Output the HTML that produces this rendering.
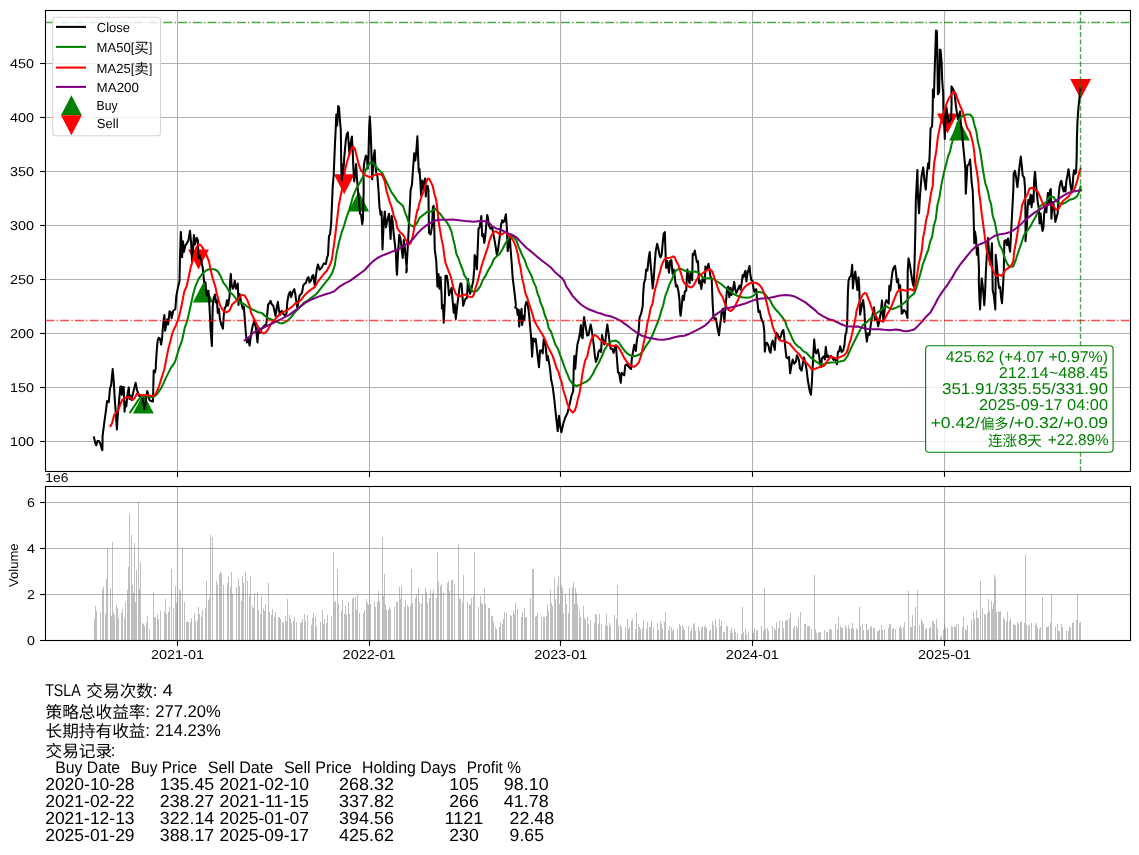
<!DOCTYPE html>
<html><head><meta charset="utf-8"><title>TSLA</title>
<style>html,body{margin:0;padding:0;background:#fff}body{width:1139px;height:855px;overflow:hidden;font-family:"Liberation Sans", sans-serif}</style>
</head><body>
<svg width="1139" height="855" viewBox="0 0 1139 855" style="display:block;transform:translateZ(0);will-change:transform;text-rendering:geometricPrecision;font-family:&quot;Liberation Sans&quot;,&quot;Noto Sans CJK SC&quot;,sans-serif">
<defs>
<clipPath id="c1"><rect x="45.5" y="10.5" width="1085.0" height="461.0"/></clipPath>
<clipPath id="c2"><rect x="45.5" y="486.5" width="1085.0" height="154.0"/></clipPath>
</defs>
<rect width="1139" height="855" fill="#fff"/>
<g opacity="0.999">
<g clip-path="url(#c1)">
<line x1="177.5" x2="177.5" y1="10.5" y2="471.5" stroke="#b0b0b0" stroke-width="1.1"/>
<line x1="369.5" x2="369.5" y1="10.5" y2="471.5" stroke="#b0b0b0" stroke-width="1.1"/>
<line x1="560.5" x2="560.5" y1="10.5" y2="471.5" stroke="#b0b0b0" stroke-width="1.1"/>
<line x1="752.5" x2="752.5" y1="10.5" y2="471.5" stroke="#b0b0b0" stroke-width="1.1"/>
<line x1="944.5" x2="944.5" y1="10.5" y2="471.5" stroke="#b0b0b0" stroke-width="1.1"/>
<line x1="45.5" x2="1130.5" y1="441.5" y2="441.5" stroke="#b0b0b0" stroke-width="1.1"/>
<line x1="45.5" x2="1130.5" y1="387.5" y2="387.5" stroke="#b0b0b0" stroke-width="1.1"/>
<line x1="45.5" x2="1130.5" y1="333.5" y2="333.5" stroke="#b0b0b0" stroke-width="1.1"/>
<line x1="45.5" x2="1130.5" y1="279.5" y2="279.5" stroke="#b0b0b0" stroke-width="1.1"/>
<line x1="45.5" x2="1130.5" y1="225.5" y2="225.5" stroke="#b0b0b0" stroke-width="1.1"/>
<line x1="45.5" x2="1130.5" y1="171.5" y2="171.5" stroke="#b0b0b0" stroke-width="1.1"/>
<line x1="45.5" x2="1130.5" y1="117.5" y2="117.5" stroke="#b0b0b0" stroke-width="1.1"/>
<line x1="45.5" x2="1130.5" y1="63.5" y2="63.5" stroke="#b0b0b0" stroke-width="1.1"/>
<path d="M143.40 393.50L133.00 413.50L153.80 413.50Z" fill="#008000"/>
<path d="M203.30 282.60L192.90 302.60L213.70 302.60Z" fill="#008000"/>
<path d="M358.70 191.40L348.30 211.40L369.10 211.40Z" fill="#008000"/>
<path d="M959.50 120.60L949.10 140.60L969.90 140.60Z" fill="#008000"/>
<path d="M198.50 269.40L188.10 249.40L208.90 249.40Z" fill="#ff0000"/>
<path d="M344.20 194.20L333.80 174.20L354.60 174.20Z" fill="#ff0000"/>
<path d="M947.40 133.60L937.00 113.60L957.80 113.60Z" fill="#ff0000"/>
<path d="M1080.60 99.00L1070.20 79.00L1091.00 79.00Z" fill="#ff0000"/>
<path d="M94.0 437.4L95.3 443.2L96.3 445.3L97.4 441.1L99.0 441.1L100.5 444.3L102.0 449.6L102.4 450.2L102.6 435.9L104.2 423.2L105.8 411.6L107.1 401.1L108.8 402.1L110.0 388.4L111.1 385.3L112.7 369.0L113.7 381.1L114.8 400.0L115.8 412.7L116.9 429.5L117.6 416.9L119.0 402.1L120.3 386.9L121.1 386.3L121.8 394.8L122.9 386.9L123.7 386.9L124.6 411.6L125.3 402.1L126.3 406.4L127.4 394.8L128.8 387.4L129.5 399.0L130.6 395.8L131.6 400.0L132.7 394.8L134.2 388.4L135.6 382.7L136.9 389.5L137.9 392.7L139.0 395.8L140.6 396.9L142.2 396.9L143.2 402.1L144.3 409.0L145.3 405.3L146.4 396.9L147.2 391.1L148.3 394.8L149.5 400.0L151.1 401.1L152.9 401.6L153.2 391.6L153.7 370.5L154.8 372.6L155.8 368.4L155.8 365.0L156.9 348.7L157.7 340.3L158.8 337.7L160.0 338.7L161.1 344.5L162.1 338.2L162.7 329.8L163.7 319.2L164.4 315.0L165.1 330.8L166.3 324.5L167.2 319.2L168.2 324.5L169.5 311.3L170.6 311.9L171.6 318.2L173.2 310.8L175.3 309.2L176.3 296.1L177.9 287.6L179.5 281.3L180.0 257.1L180.8 231.9L181.6 244.5L182.1 257.1L183.0 241.3L184.0 251.9L185.3 245.6L186.9 243.4L188.4 240.3L190.0 230.8L191.1 242.4L192.1 261.4L193.2 246.6L193.9 235.0L195.0 244.5L196.7 237.7L197.9 240.3L198.5 258.2L199.5 255.0L201.1 260.3L202.7 267.7L204.2 282.4L205.5 282.4L206.4 295.1L207.6 290.9L207.4 296.1L208.5 290.8L209.5 306.6L210.6 329.8L211.9 346.1L212.7 306.6L213.7 298.2L215.0 294.5L215.9 302.4L216.9 300.3L217.8 312.9L218.8 308.7L220.1 320.3L221.7 325.6L222.9 328.7L223.8 315.0L224.8 307.7L225.9 306.6L226.9 300.3L228.0 305.6L229.6 296.1L230.1 282.4L230.8 274.0L231.6 284.5L232.7 288.7L233.7 286.6L234.8 280.8L235.9 288.7L237.8 283.5L238.5 305.0L239.6 294.0L240.6 299.2L241.7 304.5L242.7 308.7L243.8 306.6L244.8 319.2L245.9 334.0L246.9 342.4L248.0 338.2L249.6 345.6L251.1 334.0L252.7 325.6L254.3 321.4L255.9 327.7L257.5 342.4L258.5 327.7L260.0 329.8L260.0 333.0L261.6 328.7L263.2 327.2L264.8 325.1L266.3 324.5L267.4 312.9L268.1 304.5L269.2 303.5L270.6 300.8L271.6 304.0L273.2 305.6L274.2 309.8L275.5 316.1L276.9 306.6L277.9 301.9L279.0 310.8L280.0 315.1L281.6 310.8L283.2 314.0L284.8 315.1L286.4 314.0L287.4 301.4L288.8 294.0L290.1 291.9L291.1 297.1L292.7 291.9L294.3 289.2L295.3 294.0L296.4 302.4L297.4 307.7L298.5 301.4L299.5 295.6L301.1 294.0L302.2 291.9L303.2 285.6L304.3 284.0L305.9 282.9L307.4 278.2L308.5 277.1L309.5 282.4L311.1 280.3L312.2 276.1L313.2 275.0L314.8 285.6L315.9 276.1L316.9 268.7L318.0 264.5L319.6 269.7L321.7 267.6L323.8 263.4L325.9 264.0L326.9 258.2L328.0 255.0L329.0 235.8L330.0 234.8L331.1 224.2L332.1 201.1L332.7 186.3L333.7 175.1L334.8 147.7L335.8 126.6L336.3 114.5L337.1 125.6L338.2 106.1L339.0 107.6L340.0 121.3L340.8 129.8L341.3 168.7L341.8 180.3L342.7 164.5L343.2 175.1L344.2 158.2L345.8 140.3L346.9 134.0L347.9 132.4L348.8 145.6L349.5 154.0L350.6 143.5L351.9 136.6L352.7 150.8L353.4 168.7L354.2 181.4L355.1 175.1L356.1 164.0L356.9 177.2L357.9 190.5L359.0 201.1L360.0 213.7L361.1 214.8L362.2 224.2L362.9 220.0L363.7 190.5L363.5 170.9L364.3 162.4L365.8 155.6L366.9 157.2L367.7 168.7L368.5 154.0L369.2 126.6L369.8 116.6L370.6 129.8L371.3 149.8L372.2 179.3L373.0 168.7L373.7 156.1L374.7 150.3L375.3 163.5L376.2 173.0L377.4 176.1L378.5 190.5L379.5 207.4L380.6 214.8L381.6 211.6L382.5 249.5L383.7 222.1L384.8 211.6L385.9 227.4L387.4 220.0L389.0 213.7L390.6 239.0L391.7 215.8L392.7 222.1L393.8 234.8L394.8 243.2L395.9 253.7L396.6 270.0L397.0 274.8L398.0 253.7L399.3 234.8L400.6 239.0L401.7 249.5L402.7 258.0L403.8 240.1L404.8 247.4L405.9 260.1L406.9 270.0L406.3 272.4L408.0 243.2L409.0 222.1L410.1 201.1L410.6 190.5L412.0 184.2L413.2 166.9L414.2 153.2L415.3 160.6L416.3 151.1L417.4 136.3L418.1 156.3L418.8 172.1L419.5 169.0L420.5 184.8L421.1 195.3L422.1 180.6L423.0 189.0L424.0 182.7L425.1 178.5L425.8 196.4L426.5 186.9L427.6 185.8L428.4 190.1L429.0 232.9L430.6 234.5L432.1 225.5L432.9 206.9L433.7 205.9L434.1 221.3L434.8 249.8L436.3 261.4L437.4 286.6L438.5 274.0L439.5 288.7L440.6 277.2L441.6 295.1L441.9 308.5L443.0 305.3L443.7 322.7L444.8 302.1L445.5 275.8L446.9 275.8L447.9 282.1L449.0 295.3L450.6 290.6L451.6 287.9L452.7 301.1L453.7 312.7L454.8 304.2L455.8 319.0L457.4 304.2L458.5 295.8L459.5 287.4L460.6 283.2L461.6 284.2L462.4 295.8L463.2 305.8L464.3 302.1L465.3 299.0L466.9 297.9L467.4 290.6L468.0 279.0L468.5 286.3L470.1 293.7L471.6 288.4L473.2 281.1L474.3 268.4L474.6 255.0L475.6 257.1L476.9 269.3L477.8 246.6L478.5 228.7L479.5 227.6L480.6 221.3L481.3 216.1L482.2 236.1L483.2 234.0L484.3 242.9L485.3 236.1L486.4 223.4L487.2 215.0L488.0 218.2L489.0 225.5L490.6 228.7L492.2 227.6L493.8 236.1L495.3 244.5L496.9 255.0L498.0 249.8L499.0 242.4L500.1 234.0L501.1 224.5L502.2 220.3L503.2 222.4L504.3 221.3L505.9 214.3L506.9 228.7L507.7 251.3L509.0 244.5L509.8 236.1L510.6 248.7L511.7 263.5L512.7 278.2L513.8 286.6L514.8 295.1L515.9 305.0L515.3 307.6L516.9 308.7L517.7 315.0L518.8 309.7L519.2 326.6L520.2 316.1L521.6 308.7L522.1 325.0L523.4 316.1L524.4 320.3L525.3 305.5L526.5 301.8L527.6 304.5L528.7 310.8L529.7 321.3L531.1 337.1L532.1 356.6L533.2 338.2L534.2 341.4L535.6 338.7L536.7 347.7L537.9 358.2L539.0 367.2L540.0 350.8L541.6 350.3L542.7 353.5L543.7 339.2L544.8 341.4L545.8 347.7L546.9 360.3L547.9 356.1L549.0 362.4L550.0 368.7L551.1 379.3L552.7 386.9L554.3 399.5L555.8 414.2L557.7 431.1L559.0 415.8L560.3 426.9L561.4 432.2L563.2 423.7L565.3 417.4L567.4 413.2L569.5 404.8L571.6 395.3L573.2 391.1L573.7 368.7L574.3 356.1L575.3 368.7L576.4 354.0L577.4 344.5L579.0 338.2L580.1 331.9L580.9 325.0L581.7 337.1L582.7 338.2L583.4 324.5L584.1 317.1L585.1 323.4L586.2 329.8L587.2 335.6L588.5 335.0L589.6 329.8L590.6 324.5L591.7 329.8L592.7 337.1L593.8 345.6L594.8 355.1L595.9 361.9L597.5 358.2L598.5 351.9L599.9 349.8L601.1 351.9L602.0 335.0L603.2 340.3L604.3 344.5L605.4 341.4L606.4 330.8L607.3 324.5L608.5 332.9L609.6 342.4L610.6 348.7L612.2 348.7L613.6 352.9L614.8 347.7L615.9 345.6L616.9 358.2L618.0 372.4L619.1 373.0L620.8 382.7L621.6 372.7L622.7 373.7L624.2 375.3L625.3 365.3L626.9 364.3L628.4 366.4L630.0 368.0L631.1 369.0L631.8 359.0L633.2 350.6L634.2 344.8L635.8 351.1L636.9 340.0L638.5 332.7L639.5 317.9L641.1 313.7L642.7 306.3L643.2 293.7L644.0 283.2L645.3 279.0L646.1 269.5L647.4 270.6L648.7 257.9L649.7 252.1L650.6 264.2L651.6 274.8L652.7 288.5L653.7 279.0L654.8 262.1L655.8 250.6L657.2 243.7L658.5 249.5L659.5 254.8L660.6 257.4L661.6 254.8L662.7 243.2L663.7 233.7L664.8 232.1L665.3 246.3L665.8 259.0L666.2 267.9L667.4 261.1L669.0 272.7L670.1 261.1L671.4 260.0L672.5 273.7L673.7 269.5L674.8 276.9L675.9 286.4L677.1 285.3L678.5 291.6L679.5 300.1L679.9 310.5L680.6 315.8L681.7 306.3L682.7 295.9L683.8 300.1L684.8 291.6L686.2 290.6L686.9 275.8L687.4 269.5L688.5 279.0L689.6 283.2L690.4 272.7L691.4 279.0L692.2 280.1L692.7 253.7L693.8 254.8L694.8 250.6L695.9 256.9L696.9 262.1L698.0 261.1L699.0 283.2L700.1 281.1L701.4 289.0L702.4 279.0L703.8 281.1L704.8 282.7L705.4 266.4L706.6 269.5L707.5 267.4L708.5 263.7L709.6 270.6L710.6 276.9L711.7 279.0L712.6 302.4L713.5 317.2L714.7 319.3L715.8 318.2L717.7 329.0L719.0 335.3L720.0 325.8L721.1 318.4L721.6 310.9L723.0 308.7L723.7 315.1L724.4 321.9L725.3 308.7L726.3 298.2L727.2 287.7L728.2 286.6L729.3 297.2L730.6 287.7L731.6 295.1L732.9 289.8L734.2 281.9L735.3 289.8L736.3 292.9L737.4 290.8L738.5 287.7L739.5 285.6L740.6 289.8L741.6 283.5L742.7 275.0L743.7 277.1L744.8 271.9L745.5 270.8L746.4 281.4L747.4 274.0L748.5 269.8L749.5 266.1L750.4 275.0L751.4 280.3L752.5 280.8L753.2 286.6L754.3 291.9L755.3 289.8L756.4 289.3L756.9 298.2L757.7 304.5L758.5 311.9L759.8 310.9L760.9 317.2L762.2 320.9L763.2 322.4L764.3 331.1L764.8 351.6L765.8 343.7L766.9 342.7L768.5 345.8L769.5 351.1L770.6 352.7L771.6 343.7L772.7 340.6L773.7 344.8L774.8 350.0L775.6 337.4L776.4 332.7L778.0 335.3L779.5 339.5L781.1 335.3L782.4 331.1L783.4 330.0L784.3 337.4L785.3 347.9L786.4 357.4L788.0 358.5L789.0 356.9L790.1 373.2L791.4 365.8L792.7 359.5L794.3 363.7L795.9 361.6L796.9 355.3L798.0 357.4L799.0 360.6L800.0 368.5L801.6 370.6L802.6 364.8L804.0 357.4L805.3 362.7L806.5 369.0L807.9 380.6L809.5 390.1L810.9 394.8L811.8 383.7L812.6 367.9L813.5 352.1L814.2 339.5L815.3 352.1L816.3 353.2L817.9 349.5L819.0 355.3L820.0 362.7L821.1 366.9L821.9 358.5L823.7 356.4L824.8 359.5L825.8 346.9L826.9 356.9L827.9 355.3L829.0 358.5L830.6 355.8L832.1 357.4L833.7 360.0L835.3 358.5L836.9 364.3L837.9 352.1L839.2 351.1L840.2 346.3L841.6 352.1L843.2 350.6L844.5 344.8L845.3 335.3L846.4 332.1L847.2 322.6L847.4 313.7L847.9 292.7L848.5 281.1L849.5 277.4L851.1 275.8L852.2 264.8L852.9 288.5L853.9 277.9L855.3 271.6L856.4 282.1L857.4 290.0L858.5 277.4L859.2 286.4L860.1 314.8L861.1 309.5L862.2 303.2L863.2 300.1L864.3 309.5L865.3 329.0L866.9 341.6L868.0 333.2L869.5 334.8L870.6 325.8L871.6 319.5L872.7 314.2L874.1 307.4L875.0 320.1L876.1 315.9L877.1 320.1L878.2 326.4L879.5 320.1L880.6 313.7L882.0 300.6L882.7 313.7L883.4 320.1L884.3 313.7L885.3 303.2L886.4 300.1L887.4 302.2L888.7 303.7L889.3 285.8L890.4 290.6L891.4 280.0L892.5 271.6L893.8 267.4L895.1 265.8L896.1 273.7L896.9 282.1L898.0 279.0L899.0 288.5L900.1 285.3L900.9 296.9L901.7 313.7L902.7 312.7L903.8 310.1L905.4 311.6L906.4 313.7L907.5 318.0L907.7 271.6L908.5 258.4L909.6 263.2L910.6 269.5L911.7 276.9L912.9 284.2L913.8 286.4L914.6 261.1L915.3 232.7L915.8 201.1L917.4 170.1L917.9 194.7L919.0 213.2L920.0 195.8L921.6 175.9L923.2 167.4L924.4 180.1L925.8 189.5L926.9 173.7L928.2 163.2L929.0 168.5L929.7 152.7L930.6 128.4L932.1 126.3L932.7 110.5L932.9 89.5L933.9 97.4L934.6 72.7L935.3 51.6L936.0 30.5L936.9 31.1L937.4 62.1L937.9 94.3L939.2 91.6L939.8 49.5L940.6 50.0L941.6 62.1L942.1 79.0L943.2 93.7L943.4 110.5L944.0 121.1L944.8 139.0L945.5 119.0L946.4 107.4L947.4 114.7L948.3 122.7L949.5 121.1L951.1 119.0L951.6 103.2L951.4 86.4L952.7 88.5L954.3 91.6L955.3 100.1L955.8 105.3L956.9 112.6L957.9 119.0L959.0 115.8L960.1 111.6L960.6 121.1L961.1 125.3L962.2 134.8L963.2 146.4L964.3 156.9L965.3 168.5L965.8 193.7L967.4 165.3L969.0 164.3L970.1 159.5L970.8 168.5L971.6 182.2L972.7 190.5L973.5 211.6L974.3 243.2L975.0 231.6L976.1 239.0L976.9 254.8L978.0 247.4L979.0 270.0L978.8 281.6L979.5 300.6L980.1 309.5L980.9 292.1L981.7 278.4L982.7 285.8L983.8 298.5L984.3 305.3L985.1 292.1L985.9 271.1L986.9 253.7L988.0 237.9L989.0 253.7L990.1 264.3L991.1 253.7L992.0 243.2L992.7 290.0L993.8 295.3L994.6 302.7L995.3 309.5L995.7 276.3L995.7 254.8L996.9 265.8L998.0 279.5L999.0 287.9L1000.1 286.9L1001.1 297.4L1002.0 303.2L1002.7 292.1L1003.8 271.1L1004.3 241.1L1005.9 240.1L1006.9 245.3L1008.0 238.5L1009.0 245.3L1010.1 251.6L1011.1 232.7L1012.2 211.6L1013.3 190.5L1013.7 173.4L1015.0 170.8L1016.0 176.6L1017.4 187.1L1018.4 177.7L1019.5 166.1L1020.8 156.6L1021.8 166.1L1022.7 175.6L1024.2 177.7L1025.1 189.2L1025.5 218.7L1025.5 241.1L1026.9 225.1L1027.6 208.2L1028.4 199.8L1029.5 204.0L1030.6 194.5L1031.6 207.2L1032.7 195.6L1033.5 201.9L1034.2 179.8L1035.0 171.9L1035.8 181.9L1036.7 191.4L1037.7 201.9L1038.8 208.2L1039.5 223.5L1040.6 213.5L1041.6 225.1L1042.5 230.9L1043.4 228.2L1044.2 213.5L1045.3 207.2L1046.4 212.4L1047.4 197.7L1047.9 192.9L1049.0 204.0L1050.0 190.3L1050.8 189.2L1051.4 218.7L1052.2 208.2L1053.2 201.9L1054.3 210.3L1055.3 221.9L1056.4 217.7L1057.7 213.5L1058.5 197.7L1059.5 187.1L1060.6 181.9L1061.4 180.8L1062.7 188.2L1063.7 191.4L1064.8 187.1L1065.5 191.4L1066.4 180.8L1067.4 175.6L1068.5 169.2L1069.5 176.6L1070.4 185.0L1071.4 190.3L1072.5 187.1L1073.2 176.6L1074.0 170.3L1075.0 174.0L1076.1 172.4L1076.7 155.5L1076.9 138.7L1077.5 120.8L1078.5 107.1L1079.6 96.6L1080.3 88.7" fill="none" stroke="#000" stroke-width="2.05" stroke-linejoin="round" stroke-linecap="square"/>
<path d="M130.2 412.2L134.2 406.4L137.9 400.6L140.6 397.4L143.7 396.3L146.9 396.3L151.1 397.1L153.2 397.4L157.4 393.7L161.6 387.4L165.9 377.9L170.6 368.4L174.3 363.2L175.8 359.3L179.0 348.7L182.1 340.3L184.8 327.7L187.4 320.3L190.0 308.7L192.7 296.1L195.3 286.6L198.5 279.2L202.1 274.0L206.4 270.3L209.5 269.3L214.8 269.3L217.9 271.4L220.6 276.1L223.2 282.4L226.4 286.6L229.5 291.9L233.2 295.0L236.3 299.2L240.5 302.4L244.7 304.5L249.0 307.7L253.2 309.8L257.4 311.9L261.6 312.9L264.8 315.6L267.9 318.2L272.1 319.8L276.4 321.4L279.5 323.0L282.2 323.5L284.8 322.4L287.9 320.3L291.1 317.2L295.3 311.9L299.5 307.7L303.7 302.9L308.0 300.3L312.2 297.1L316.4 294.0L320.6 288.7L324.8 283.4L329.0 278.2L332.2 272.9L334.8 265.5L335.3 261.1L336.9 251.6L339.0 242.2L341.6 232.7L344.2 225.3L346.3 217.9L349.0 210.6L351.1 203.2L353.2 195.8L356.4 188.4L359.5 183.2L361.6 179.3L363.7 175.1L365.8 169.8L367.9 165.6L370.6 162.4L372.7 162.4L375.3 165.6L378.5 169.8L382.2 173.0L384.8 178.2L388.5 186.3L391.7 192.6L394.8 196.9L397.4 201.1L400.6 203.7L403.2 206.3L404.8 211.6L406.9 216.9L408.5 222.1L410.1 224.8L412.7 226.4L415.4 225.3L417.5 222.1L419.6 217.9L422.2 215.8L424.8 213.7L427.5 211.6L431.1 211.7L433.2 210.1L435.3 208.5L437.4 211.1L440.6 214.3L442.7 217.4L446.9 222.4L449.5 226.6L451.6 231.9L453.2 239.2L454.8 245.6L456.4 254.0L458.5 258.2L460.6 264.5L462.7 269.8L464.3 275.1L466.9 279.3L469.0 284.5L471.6 290.3L473.7 291.9L476.9 290.9L480.1 286.6L482.7 280.3L485.9 275.1L488.5 269.8L491.7 264.5L493.8 259.2L496.9 256.1L499.6 254.0L502.7 248.7L505.4 243.4L508.5 238.2L511.1 236.1L513.8 237.1L516.4 240.3L518.5 246.6L519.5 248.7L522.1 255.0L524.8 260.3L526.9 266.6L529.5 271.9L531.6 276.1L533.7 282.4L535.8 286.6L537.4 293.0L539.5 298.2L540.0 301.3L542.7 307.6L544.8 315.0L546.9 320.3L548.5 327.7L551.1 331.9L553.2 338.2L555.3 344.5L557.9 348.7L560.1 355.1L562.2 360.3L564.3 366.6L566.4 371.9L567.4 374.2L569.5 379.5L572.7 384.2L576.4 386.0L580.1 384.7L583.2 383.2L586.4 381.6L589.6 379.0L592.7 374.2L595.9 367.7L599.0 362.4L602.1 355.8L604.7 349.5L607.4 345.3L610.0 342.1L612.6 340.9L615.8 340.6L619.0 342.7L622.1 347.4L625.3 351.6L629.0 354.8L632.7 356.4L636.3 355.8L640.0 354.3L643.2 350.6L646.4 345.3L649.5 341.1L652.2 335.8L654.3 330.6L656.9 324.2L659.0 319.0L661.1 311.6L663.2 305.3L665.3 295.9L667.4 290.6L669.5 284.3L671.6 280.1L673.7 274.8L675.9 270.6L678.5 269.0L681.7 269.0L684.3 270.6L687.4 271.6L691.7 271.8L695.9 271.6L699.0 273.2L703.2 277.7L706.8 278.2L710.5 278.2L713.7 279.2L716.9 281.4L721.1 284.0L725.3 287.7L729.5 290.8L733.7 294.0L737.9 296.1L742.1 297.2L746.4 297.7L750.6 297.2L753.7 295.6L756.4 292.9L759.0 291.9L762.2 292.4L764.8 294.0L767.4 297.2L770.1 300.3L772.7 305.6L775.9 309.8L779.0 313.0L782.2 317.2L785.3 321.4L786.9 326.9L789.6 332.1L792.2 338.4L794.8 343.2L798.5 346.9L800.0 347.4L803.2 351.1L806.8 353.2L810.5 357.4L814.7 360.6L819.0 363.7L822.7 364.6L826.3 363.2L830.6 362.5L835.8 362.2L840.0 361.6L844.2 360.6L847.4 356.4L850.6 349.0L853.7 342.7L856.9 336.3L860.1 330.0L863.2 324.7L867.4 321.6L871.6 317.4L875.9 313.7L880.1 310.5L884.3 307.4L886.9 306.4L889.6 308.5L892.7 309.0L896.9 307.4L900.0 305.8L903.2 303.7L906.8 300.6L910.5 296.4L914.2 293.7L916.3 287.9L918.4 280.6L920.5 273.2L922.7 264.7L923.7 262.2L926.3 254.8L928.4 249.5L930.0 242.2L932.1 236.9L933.7 226.4L935.8 219.0L937.4 205.3L939.5 196.9L941.1 186.3L942.1 181.1L944.2 171.6L946.4 163.2L947.9 156.9L950.0 151.6L951.6 144.2L952.7 140.6L954.8 131.6L957.4 123.2L960.1 117.9L963.2 115.3L966.9 114.5L970.1 114.5L972.7 117.4L974.3 124.2L976.4 131.6L978.0 142.1L980.1 150.6L981.7 161.1L983.2 171.6L985.3 183.2L988.0 191.6L989.6 200.0L991.1 204.2L992.7 215.8L994.8 222.1L996.4 230.6L998.0 239.0L999.6 245.3L1002.1 249.5L1004.7 257.9L1007.4 264.2L1010.0 266.9L1013.2 266.4L1015.8 260.0L1018.4 251.6L1021.1 244.2L1023.7 235.8L1026.3 231.6L1030.0 227.2L1032.7 221.9L1035.8 216.6L1037.9 211.4L1040.0 206.1L1043.2 204.0L1046.4 201.9L1048.5 197.7L1051.1 196.4L1053.7 197.2L1055.8 200.8L1058.5 202.9L1062.2 204.0L1065.8 202.4L1069.5 199.8L1073.7 198.7L1076.9 196.6L1079.0 192.4L1080.6 186.6" fill="none" stroke="#008000" stroke-width="2.05" stroke-linejoin="round" stroke-linecap="square"/>
<path d="M110.5 426.2L112.1 423.2L114.2 414.8L117.4 411.6L120.0 405.3L122.1 400.0L124.8 397.9L128.5 396.9L130.6 397.9L132.7 400.0L134.8 397.9L136.9 393.7L139.5 394.8L142.7 395.3L145.8 395.3L149.0 395.6L153.2 396.3L155.8 393.7L159.0 386.3L161.6 377.9L164.3 369.5L167.9 350.9L170.0 342.4L172.7 331.9L175.8 325.6L179.0 317.1L181.6 305.6L184.2 291.9L186.9 285.5L190.6 267.7L193.7 257.1L196.3 247.7L198.5 244.5L200.6 245.0L203.2 248.7L206.4 255.0L209.0 261.4L210.6 269.8L212.7 278.2L215.3 286.6L216.9 294.0L220.1 305.6L223.2 310.8L226.4 312.4L229.0 310.8L230.0 309.8L232.1 304.5L234.7 302.4L237.9 299.2L240.5 296.1L242.6 294.8L244.7 295.6L246.9 299.2L249.5 305.6L251.1 312.9L253.7 318.2L255.8 322.4L258.4 327.7L261.1 331.9L263.7 333.5L266.3 331.9L268.5 328.7L271.1 323.5L274.2 320.3L276.9 317.2L279.5 314.5L283.7 311.9L287.9 309.8L292.2 306.6L295.3 303.5L298.5 302.4L301.6 299.2L304.8 295.0L308.0 291.9L311.7 289.2L314.8 287.1L317.4 282.4L320.6 278.2L323.8 274.0L326.9 270.8L329.6 265.5L331.7 260.3L332.7 253.7L334.2 243.2L335.8 230.6L337.4 216.9L339.0 204.2L341.1 193.7L342.7 186.3L344.2 180.0L344.8 170.9L346.9 162.4L349.5 154.0L351.6 148.7L353.2 146.6L354.8 148.7L356.4 155.1L358.5 163.5L360.6 169.8L363.7 174.0L366.9 176.1L369.0 176.7L370.6 177.2L373.2 175.6L377.4 174.0L380.6 174.2L382.7 176.1L384.8 181.4L386.4 190.5L389.5 201.1L391.7 207.4L393.8 215.8L395.9 221.1L397.4 228.5L400.1 232.2L403.2 234.8L405.9 240.1L408.5 244.8L410.6 243.2L412.7 236.9L414.3 227.4L415.9 216.9L417.5 209.5L417.9 210.1L419.5 202.7L421.6 196.4L423.7 191.1L425.8 183.7L427.4 179.0L429.0 178.5L430.6 181.6L432.7 185.8L434.2 193.2L436.3 200.6L437.4 209.0L438.5 221.3L440.0 229.7L441.6 239.2L443.2 246.6L444.2 255.0L445.3 262.4L446.9 266.6L448.5 270.8L450.6 276.1L452.2 282.4L453.7 288.7L455.8 294.0L458.5 296.1L461.1 296.1L463.7 294.5L466.4 295.1L469.0 296.7L472.2 297.0L473.7 295.1L475.3 288.7L477.4 282.4L479.5 274.0L481.7 265.6L483.8 259.2L485.9 252.9L488.0 246.6L489.6 240.3L491.7 235.0L493.8 231.9L495.9 231.3L498.5 233.4L500.6 235.0L503.2 233.4L505.9 232.4L508.5 235.0L510.6 237.1L513.3 240.3L515.9 246.6L518.0 255.0L519.0 261.4L520.5 267.7L522.1 278.2L523.7 284.5L525.3 293.0L527.4 298.2L530.0 306.6L532.1 312.9L534.2 320.3L536.9 325.6L540.0 330.8L542.7 335.0L545.3 340.3L547.4 345.6L550.0 350.8L552.7 356.1L554.8 362.4L556.4 367.7L558.5 371.9L560.1 378.2L561.6 381.6L563.2 390.0L565.3 396.3L567.4 403.7L569.5 409.0L572.7 412.7L574.8 410.6L576.4 405.8L578.0 398.4L579.5 393.2L581.1 383.7L582.2 375.1L583.8 366.6L585.3 360.3L587.4 356.1L589.0 347.7L591.1 340.3L592.7 336.6L594.8 335.0L597.5 336.6L600.1 339.8L603.2 342.1L606.3 343.7L609.5 345.3L613.2 346.1L616.3 345.3L619.0 347.9L621.6 352.7L624.2 357.9L627.4 362.7L630.6 365.8L633.7 366.9L636.3 365.3L639.0 362.2L641.6 353.7L643.2 345.3L644.8 337.9L646.4 329.5L647.4 323.2L649.0 316.9L650.6 308.4L652.7 303.2L653.7 295.9L655.3 288.5L656.9 283.2L658.5 276.9L660.1 271.6L661.6 265.3L663.7 260.6L665.8 257.9L668.5 257.9L671.1 257.4L673.2 256.3L674.8 257.4L676.4 261.6L678.5 265.3L680.1 270.6L681.7 275.8L683.2 281.1L685.3 284.3L688.5 286.4L691.7 287.4L693.8 285.3L695.9 281.1L698.5 276.9L700.0 275.0L703.2 272.9L706.8 270.3L710.0 269.2L712.1 271.3L714.2 277.1L716.3 283.5L718.4 289.8L720.5 294.0L722.7 297.2L724.8 303.5L726.9 307.7L729.0 310.3L731.1 310.9L733.2 309.3L735.8 304.5L737.9 300.3L740.0 295.1L742.1 290.8L744.2 287.7L746.9 285.0L749.5 283.5L752.7 282.6L755.8 282.9L759.0 284.5L761.6 287.7L763.7 291.9L765.8 299.3L767.4 305.6L769.0 313.0L771.1 319.3L772.7 326.9L774.8 332.1L776.4 336.3L780.1 340.6L783.8 341.1L786.4 342.1L789.6 343.7L792.7 347.4L795.9 351.1L799.6 354.8L803.2 360.0L806.3 362.7L809.5 366.4L812.1 369.8L815.8 368.5L820.0 366.9L824.2 365.8L826.9 361.6L830.6 356.4L833.7 357.4L836.9 358.7L840.6 356.9L844.2 355.3L846.9 352.1L849.0 344.8L851.1 338.4L852.7 331.1L854.3 323.7L855.8 316.3L856.4 311.6L858.5 304.3L860.6 299.0L862.7 294.8L864.8 292.9L866.4 293.7L868.0 297.9L870.1 303.2L872.2 309.5L874.3 313.7L876.9 318.0L880.1 320.6L883.2 321.7L885.3 318.0L887.4 313.7L890.1 309.5L892.7 303.2L894.8 297.9L896.9 292.7L899.6 289.5L903.2 290.0L906.8 291.1L910.0 289.0L913.7 290.6L915.3 284.8L916.9 276.3L918.4 265.8L920.5 256.3L921.6 251.6L923.2 236.9L924.8 229.5L926.1 220.0L927.9 213.7L929.5 203.2L931.1 192.6L932.7 186.3L933.2 175.9L934.2 163.2L936.3 150.6L937.9 136.9L940.0 126.3L942.1 117.9L944.2 110.5L946.4 104.3L948.5 99.0L950.6 95.9L952.7 92.7L954.3 91.9L955.8 93.7L957.4 99.0L959.5 104.3L962.2 110.5L964.3 116.9L965.8 123.2L967.4 128.4L969.5 131.1L971.6 137.9L973.2 144.2L974.3 152.7L975.3 163.2L976.9 171.6L978.5 183.2L978.8 190.5L980.3 201.1L981.7 213.7L983.2 224.2L984.8 236.9L986.2 247.4L988.0 255.9L990.1 262.6L992.2 268.4L994.3 273.2L996.4 276.3L999.0 274.8L1001.7 275.8L1003.8 272.7L1005.4 270.0L1008.5 267.9L1011.1 265.8L1013.3 261.6L1014.2 251.6L1015.8 243.2L1017.4 233.7L1018.4 225.1L1020.5 216.6L1022.1 205.1L1024.8 198.7L1027.4 194.5L1029.5 188.7L1031.6 187.7L1034.8 189.2L1037.9 191.9L1040.0 196.6L1042.1 201.9L1043.7 205.6L1046.4 205.1L1049.5 204.0L1052.7 205.1L1054.8 208.2L1056.9 209.8L1059.0 208.2L1061.1 204.0L1063.2 200.8L1065.8 198.7L1068.5 196.6L1070.6 193.5L1072.7 191.4L1074.8 188.2L1076.9 181.9L1079.0 173.4L1080.6 168.7" fill="none" stroke="#ff0000" stroke-width="2.05" stroke-linejoin="round" stroke-linecap="square"/>
<path d="M244.7 340.3L249.0 337.2L253.2 333.0L258.4 329.8L263.7 327.7L267.9 325.6L272.1 323.5L276.4 321.4L280.6 319.3L284.8 317.2L289.0 315.1L293.2 311.9L297.4 308.7L301.6 305.6L305.9 302.4L312.2 299.2L318.5 296.6L324.8 294.5L330.1 292.9L334.3 291.3L339.6 286.6L344.8 283.4L350.0 280.8L364.8 270.0L369.0 265.3L373.2 261.1L377.4 258.0L381.6 255.9L386.9 253.7L392.2 251.6L397.4 249.5L400.0 248.2L404.2 245.6L409.5 242.4L413.7 238.2L417.9 232.9L422.1 228.7L426.3 225.5L430.6 222.9L434.8 220.8L439.0 219.7L445.3 219.7L452.7 219.4L459.0 220.3L465.3 221.1L473.7 221.8L480.1 221.1L486.4 221.3L489.6 223.4L492.7 226.6L496.9 228.7L500.0 229.2L504.2 231.3L508.4 233.4L512.6 235.0L516.9 237.7L521.1 242.4L526.3 247.7L531.6 251.9L536.9 256.6L542.1 260.8L546.4 264.0L550.6 267.2L554.8 271.9L559.0 275.6L562.2 278.2L564.3 281.4L566.4 286.6L569.5 290.9L572.7 296.1L574.8 298.2L578.0 301.8L582.2 305.5L587.4 308.7L592.7 310.8L598.0 312.9L600.0 313.2L605.3 315.3L610.5 316.3L615.8 318.4L621.1 321.1L626.3 324.8L631.6 329.0L636.9 332.7L642.1 335.8L647.4 337.4L652.7 338.5L657.9 339.5L663.2 339.8L668.5 339.0L673.7 337.4L679.0 336.3L684.3 335.8L689.6 333.7L694.8 331.1L700.1 328.4L705.4 325.3L709.6 321.1L713.7 316.1L719.0 312.4L724.2 309.3L729.5 307.7L734.8 306.6L740.0 305.1L745.3 303.5L750.6 301.4L755.8 299.5L761.1 298.5L767.4 298.2L773.7 296.9L780.1 295.6L786.4 295.1L790.6 295.4L794.8 296.6L800.1 299.3L805.4 302.4L810.6 306.6L815.9 310.9L817.9 313.2L823.2 316.3L828.4 319.0L833.7 320.5L840.0 323.7L846.4 326.3L852.7 326.6L857.9 326.6L863.2 327.9L868.5 329.0L873.7 329.2L879.0 329.2L884.3 329.8L889.6 330.2L895.9 329.5L900.0 330.1L903.2 330.9L906.8 331.3L910.5 330.6L914.2 329.5L917.9 325.9L922.1 321.6L926.3 316.4L930.6 312.2L934.8 304.8L937.9 298.5L942.1 292.1L947.4 284.8L951.6 278.4L955.8 271.1L960.1 264.7L964.3 259.5L968.5 254.2L971.6 250.6L975.9 246.4L981.1 243.7L986.4 241.6L990.6 238.5L994.8 235.8L1000.1 234.3L1005.3 233.5L1010.5 231.9L1014.7 229.3L1019.0 226.1L1024.2 220.9L1029.5 216.6L1034.8 212.4L1040.0 209.3L1045.3 206.1L1050.6 204.0L1055.8 200.8L1061.1 197.2L1065.3 194.5L1069.5 192.4L1073.7 191.6L1078.0 190.8L1081.1 190.3" fill="none" stroke="#800080" stroke-width="2.05" stroke-linejoin="round" stroke-linecap="square"/>
<line x1="45.5" x2="1130.5" y1="22.5" y2="22.5" stroke="#008000" stroke-opacity="0.7" stroke-width="1.39" stroke-dasharray="8.9 2.22 1.39 2.22"/>
<line x1="45.5" x2="1130.5" y1="320.5" y2="320.5" stroke="#ff0000" stroke-opacity="0.7" stroke-width="1.39" stroke-dasharray="8.9 2.22 1.39 2.22"/>
<line x1="1080.5" x2="1080.5" y1="471.5" y2="10.5" stroke="#008000" stroke-opacity="0.7" stroke-width="1.39" stroke-dasharray="5.14 2.22"/>
</g>
<rect x="45.5" y="10.5" width="1085.0" height="461.0" fill="none" stroke="#000" stroke-width="1.1"/>
<line x1="177.5" x2="177.5" y1="471.5" y2="476.9" stroke="#000" stroke-width="1.1"/>
<line x1="177.5" x2="177.5" y1="640.5" y2="645.9" stroke="#000" stroke-width="1.1"/>
<line x1="369.5" x2="369.5" y1="471.5" y2="476.9" stroke="#000" stroke-width="1.1"/>
<line x1="369.5" x2="369.5" y1="640.5" y2="645.9" stroke="#000" stroke-width="1.1"/>
<line x1="560.5" x2="560.5" y1="471.5" y2="476.9" stroke="#000" stroke-width="1.1"/>
<line x1="560.5" x2="560.5" y1="640.5" y2="645.9" stroke="#000" stroke-width="1.1"/>
<line x1="752.5" x2="752.5" y1="471.5" y2="476.9" stroke="#000" stroke-width="1.1"/>
<line x1="752.5" x2="752.5" y1="640.5" y2="645.9" stroke="#000" stroke-width="1.1"/>
<line x1="944.5" x2="944.5" y1="471.5" y2="476.9" stroke="#000" stroke-width="1.1"/>
<line x1="944.5" x2="944.5" y1="640.5" y2="645.9" stroke="#000" stroke-width="1.1"/>
<line x1="40.1" x2="45.5" y1="441.5" y2="441.5" stroke="#000" stroke-width="1.1"/>
<line x1="40.1" x2="45.5" y1="387.5" y2="387.5" stroke="#000" stroke-width="1.1"/>
<line x1="40.1" x2="45.5" y1="333.5" y2="333.5" stroke="#000" stroke-width="1.1"/>
<line x1="40.1" x2="45.5" y1="279.5" y2="279.5" stroke="#000" stroke-width="1.1"/>
<line x1="40.1" x2="45.5" y1="225.5" y2="225.5" stroke="#000" stroke-width="1.1"/>
<line x1="40.1" x2="45.5" y1="171.5" y2="171.5" stroke="#000" stroke-width="1.1"/>
<line x1="40.1" x2="45.5" y1="117.5" y2="117.5" stroke="#000" stroke-width="1.1"/>
<line x1="40.1" x2="45.5" y1="63.5" y2="63.5" stroke="#000" stroke-width="1.1"/>
<text x="10.10" y="445.95" font-size="12.9" fill="#000" textLength="24.00" lengthAdjust="spacingAndGlyphs">100</text>
<text x="10.10" y="391.95" font-size="12.9" fill="#000" textLength="24.00" lengthAdjust="spacingAndGlyphs">150</text>
<text x="10.10" y="337.95" font-size="12.9" fill="#000" textLength="24.00" lengthAdjust="spacingAndGlyphs">200</text>
<text x="10.10" y="283.95" font-size="12.9" fill="#000" textLength="24.00" lengthAdjust="spacingAndGlyphs">250</text>
<text x="10.10" y="229.95" font-size="12.9" fill="#000" textLength="24.00" lengthAdjust="spacingAndGlyphs">300</text>
<text x="10.10" y="175.95" font-size="12.9" fill="#000" textLength="24.00" lengthAdjust="spacingAndGlyphs">350</text>
<text x="10.10" y="121.95" font-size="12.9" fill="#000" textLength="24.00" lengthAdjust="spacingAndGlyphs">400</text>
<text x="10.10" y="67.95" font-size="12.9" fill="#000" textLength="24.00" lengthAdjust="spacingAndGlyphs">450</text>
<g clip-path="url(#c2)">
<line x1="177.5" x2="177.5" y1="486.5" y2="640.5" stroke="#b0b0b0" stroke-width="1.1"/>
<line x1="369.5" x2="369.5" y1="486.5" y2="640.5" stroke="#b0b0b0" stroke-width="1.1"/>
<line x1="560.5" x2="560.5" y1="486.5" y2="640.5" stroke="#b0b0b0" stroke-width="1.1"/>
<line x1="752.5" x2="752.5" y1="486.5" y2="640.5" stroke="#b0b0b0" stroke-width="1.1"/>
<line x1="944.5" x2="944.5" y1="486.5" y2="640.5" stroke="#b0b0b0" stroke-width="1.1"/>
<line x1="45.5" x2="1130.5" y1="640.5" y2="640.5" stroke="#b0b0b0" stroke-width="1.1"/>
<line x1="45.5" x2="1130.5" y1="594.5" y2="594.5" stroke="#b0b0b0" stroke-width="1.1"/>
<line x1="45.5" x2="1130.5" y1="548.5" y2="548.5" stroke="#b0b0b0" stroke-width="1.1"/>
<line x1="45.5" x2="1130.5" y1="502.5" y2="502.5" stroke="#b0b0b0" stroke-width="1.1"/>
<path d="M129 514h1V641h-1zM131 535h1V641h-1zM134 543h1V641h-1zM138 502h1V641h-1zM140 562h1V641h-1zM107 548h1V641h-1zM112 542h1V641h-1zM102 590h1V641h-1zM153 592h1V641h-1zM171 569h1V641h-1zM182 548h1V641h-1zM206 581h1V641h-1zM210 535h1V641h-1zM212 537h1V641h-1zM245 572h1V641h-1zM268 583h1V641h-1zM287 599h1V641h-1zM333 552h1V641h-1zM337 569h1V641h-1zM382 537h1V641h-1zM384 574h1V641h-1zM411 569h1V641h-1zM437 552h1V641h-1zM458 544h1V641h-1zM463 575h1V641h-1zM474 552h1V641h-1zM484 588h1V641h-1zM532 569h1V641h-1zM533 569h1V641h-1zM550 590h1V641h-1zM554 578h1V641h-1zM558 576h1V641h-1zM561 585h1V641h-1zM573 582h1V641h-1zM575 588h1V641h-1zM617 585h1V641h-1zM636 613h1V641h-1zM665 612h1V641h-1zM742 607h1V641h-1zM764 588h1V641h-1zM790 613h1V641h-1zM800 612h1V641h-1zM814 575h1V641h-1zM859 607h1V641h-1zM908 591h1V641h-1zM915 607h1V641h-1zM917 590h1V641h-1zM980 581h1V641h-1zM988 599h1V641h-1zM991 601h1V641h-1zM994 575h1V641h-1zM995 578h1V641h-1zM1025 555h1V641h-1zM1042 597h1V641h-1zM1051 594h1V641h-1zM1077 594h1V641h-1zM94 619h1V641h-1zM95 606h1V641h-1zM96 611h1V641h-1zM100 612h1V641h-1zM103 587h1V641h-1zM105 614h1V641h-1zM106 579h1V641h-1zM110 588h1V641h-1zM111 616h1V641h-1zM113 612h1V641h-1zM114 615h1V641h-1zM116 605h1V641h-1zM117 608h1V641h-1zM118 618h1V641h-1zM121 613h1V641h-1zM122 609h1V641h-1zM124 618h1V641h-1zM125 602h1V641h-1zM127 590h1V641h-1zM128 567h1V641h-1zM132 585h1V641h-1zM133 593h1V641h-1zM135 602h1V641h-1zM136 570h1V641h-1zM139 589h1V641h-1zM142 623h1V641h-1zM143 624h1V641h-1zM144 626h1V641h-1zM146 623h1V641h-1zM147 616h1V641h-1zM149 629h1V641h-1zM154 617h1V641h-1zM155 617h1V641h-1zM157 614h1V641h-1zM158 619h1V641h-1zM160 611h1V641h-1zM164 612h1V641h-1zM165 599h1V641h-1zM166 614h1V641h-1zM168 612h1V641h-1zM169 607h1V641h-1zM173 608h1V641h-1zM175 586h1V641h-1zM176 603h1V641h-1zM177 597h1V641h-1zM179 589h1V641h-1zM180 591h1V641h-1zM184 602h1V641h-1zM186 622h1V641h-1zM187 621h1V641h-1zM188 622h1V641h-1zM190 622h1V641h-1zM191 618h1V641h-1zM194 613h1V641h-1zM195 621h1V641h-1zM197 620h1V641h-1zM198 607h1V641h-1zM199 614h1V641h-1zM201 617h1V641h-1zM202 610h1V641h-1zM205 608h1V641h-1zM208 600h1V641h-1zM209 598h1V641h-1zM216 581h1V641h-1zM217 585h1V641h-1zM219 574h1V641h-1zM220 572h1V641h-1zM221 573h1V641h-1zM223 585h1V641h-1zM227 583h1V641h-1zM228 576h1V641h-1zM230 587h1V641h-1zM231 572h1V641h-1zM232 594h1V641h-1zM236 587h1V641h-1zM238 579h1V641h-1zM239 586h1V641h-1zM241 601h1V641h-1zM242 576h1V641h-1zM243 583h1V641h-1zM247 581h1V641h-1zM249 596h1V641h-1zM250 576h1V641h-1zM252 606h1V641h-1zM253 608h1V641h-1zM254 593h1V641h-1zM257 592h1V641h-1zM258 610h1V641h-1zM260 614h1V641h-1zM261 596h1V641h-1zM263 609h1V641h-1zM264 611h1V641h-1zM265 604h1V641h-1zM269 612h1V641h-1zM271 615h1V641h-1zM272 609h1V641h-1zM274 617h1V641h-1zM275 612h1V641h-1zM278 617h1V641h-1zM279 617h1V641h-1zM280 619h1V641h-1zM282 622h1V641h-1zM283 622h1V641h-1zM285 616h1V641h-1zM286 621h1V641h-1zM289 615h1V641h-1zM290 619h1V641h-1zM291 623h1V641h-1zM293 621h1V641h-1zM294 617h1V641h-1zM296 622h1V641h-1zM300 623h1V641h-1zM301 622h1V641h-1zM302 619h1V641h-1zM304 614h1V641h-1zM305 621h1V641h-1zM307 615h1V641h-1zM311 625h1V641h-1zM312 618h1V641h-1zM313 613h1V641h-1zM315 617h1V641h-1zM316 626h1V641h-1zM320 622h1V641h-1zM322 610h1V641h-1zM323 624h1V641h-1zM324 619h1V641h-1zM326 623h1V641h-1zM327 615h1V641h-1zM331 616h1V641h-1zM334 602h1V641h-1zM335 601h1V641h-1zM338 604h1V641h-1zM341 611h1V641h-1zM342 600h1V641h-1zM344 614h1V641h-1zM345 606h1V641h-1zM346 615h1V641h-1zM348 602h1V641h-1zM349 614h1V641h-1zM352 599h1V641h-1zM353 597h1V641h-1zM355 597h1V641h-1zM356 610h1V641h-1zM357 595h1V641h-1zM359 613h1V641h-1zM363 613h1V641h-1zM364 610h1V641h-1zM366 599h1V641h-1zM367 603h1V641h-1zM368 605h1V641h-1zM370 604h1V641h-1zM374 601h1V641h-1zM375 607h1V641h-1zM377 602h1V641h-1zM378 591h1V641h-1zM379 601h1V641h-1zM383 596h1V641h-1zM385 605h1V641h-1zM386 610h1V641h-1zM388 610h1V641h-1zM389 607h1V641h-1zM390 609h1V641h-1zM394 607h1V641h-1zM396 602h1V641h-1zM397 602h1V641h-1zM399 587h1V641h-1zM400 599h1V641h-1zM401 586h1V641h-1zM404 607h1V641h-1zM405 600h1V641h-1zM407 605h1V641h-1zM408 607h1V641h-1zM410 606h1V641h-1zM412 603h1V641h-1zM415 598h1V641h-1zM416 594h1V641h-1zM418 588h1V641h-1zM419 602h1V641h-1zM421 604h1V641h-1zM422 595h1V641h-1zM425 588h1V641h-1zM426 592h1V641h-1zM427 603h1V641h-1zM429 598h1V641h-1zM430 590h1V641h-1zM432 593h1V641h-1zM433 590h1V641h-1zM436 598h1V641h-1zM438 582h1V641h-1zM440 586h1V641h-1zM441 584h1V641h-1zM443 593h1V641h-1zM447 583h1V641h-1zM448 581h1V641h-1zM449 591h1V641h-1zM451 580h1V641h-1zM452 580h1V641h-1zM454 584h1V641h-1zM459 599h1V641h-1zM460 599h1V641h-1zM462 602h1V641h-1zM467 602h1V641h-1zM469 604h1V641h-1zM470 605h1V641h-1zM471 598h1V641h-1zM473 596h1V641h-1zM478 607h1V641h-1zM480 596h1V641h-1zM481 603h1V641h-1zM482 604h1V641h-1zM485 604h1V641h-1zM488 608h1V641h-1zM489 608h1V641h-1zM491 616h1V641h-1zM492 616h1V641h-1zM493 622h1V641h-1zM495 627h1V641h-1zM496 629h1V641h-1zM499 627h1V641h-1zM500 622h1V641h-1zM502 624h1V641h-1zM503 619h1V641h-1zM504 612h1V641h-1zM506 613h1V641h-1zM510 615h1V641h-1zM511 616h1V641h-1zM513 611h1V641h-1zM514 614h1V641h-1zM515 603h1V641h-1zM517 609h1V641h-1zM521 617h1V641h-1zM522 612h1V641h-1zM524 608h1V641h-1zM525 617h1V641h-1zM526 617h1V641h-1zM530 598h1V641h-1zM535 617h1V641h-1zM536 616h1V641h-1zM537 613h1V641h-1zM541 617h1V641h-1zM543 617h1V641h-1zM544 617h1V641h-1zM546 616h1V641h-1zM547 604h1V641h-1zM548 611h1V641h-1zM551 603h1V641h-1zM552 606h1V641h-1zM555 599h1V641h-1zM557 586h1V641h-1zM559 604h1V641h-1zM562 588h1V641h-1zM563 613h1V641h-1zM565 595h1V641h-1zM566 604h1V641h-1zM568 613h1V641h-1zM569 588h1V641h-1zM572 587h1V641h-1zM574 604h1V641h-1zM576 593h1V641h-1zM577 604h1V641h-1zM579 610h1V641h-1zM580 617h1V641h-1zM583 606h1V641h-1zM584 618h1V641h-1zM585 620h1V641h-1zM587 617h1V641h-1zM588 624h1V641h-1zM590 620h1V641h-1zM594 623h1V641h-1zM595 614h1V641h-1zM596 615h1V641h-1zM598 624h1V641h-1zM599 614h1V641h-1zM601 624h1V641h-1zM605 625h1V641h-1zM606 614h1V641h-1zM607 626h1V641h-1zM609 623h1V641h-1zM610 626h1V641h-1zM614 615h1V641h-1zM616 619h1V641h-1zM618 626h1V641h-1zM620 625h1V641h-1zM621 627h1V641h-1zM625 627h1V641h-1zM627 619h1V641h-1zM628 629h1V641h-1zM629 627h1V641h-1zM631 621h1V641h-1zM632 619h1V641h-1zM635 629h1V641h-1zM638 624h1V641h-1zM639 627h1V641h-1zM640 629h1V641h-1zM642 628h1V641h-1zM643 620h1V641h-1zM646 629h1V641h-1zM647 622h1V641h-1zM649 627h1V641h-1zM650 627h1V641h-1zM651 621h1V641h-1zM653 628h1V641h-1zM657 623h1V641h-1zM658 630h1V641h-1zM660 621h1V641h-1zM661 624h1V641h-1zM662 629h1V641h-1zM664 622h1V641h-1zM668 630h1V641h-1zM669 626h1V641h-1zM671 627h1V641h-1zM672 631h1V641h-1zM673 629h1V641h-1zM677 629h1V641h-1zM679 624h1V641h-1zM680 626h1V641h-1zM682 625h1V641h-1zM683 628h1V641h-1zM684 630h1V641h-1zM688 626h1V641h-1zM690 631h1V641h-1zM691 628h1V641h-1zM693 624h1V641h-1zM694 623h1V641h-1zM695 631h1V641h-1zM698 627h1V641h-1zM699 631h1V641h-1zM701 628h1V641h-1zM702 626h1V641h-1zM704 627h1V641h-1zM705 625h1V641h-1zM706 628h1V641h-1zM709 631h1V641h-1zM710 630h1V641h-1zM712 621h1V641h-1zM713 625h1V641h-1zM715 619h1V641h-1zM716 627h1V641h-1zM719 619h1V641h-1zM720 626h1V641h-1zM721 621h1V641h-1zM723 632h1V641h-1zM724 632h1V641h-1zM726 626h1V641h-1zM727 626h1V641h-1zM730 631h1V641h-1zM731 628h1V641h-1zM732 633h1V641h-1zM734 629h1V641h-1zM735 632h1V641h-1zM737 633h1V641h-1zM741 634h1V641h-1zM743 632h1V641h-1zM745 629h1V641h-1zM746 634h1V641h-1zM748 632h1V641h-1zM752 631h1V641h-1zM753 633h1V641h-1zM754 628h1V641h-1zM756 630h1V641h-1zM757 630h1V641h-1zM761 626h1V641h-1zM763 631h1V641h-1zM765 629h1V641h-1zM767 628h1V641h-1zM768 631h1V641h-1zM772 626h1V641h-1zM774 628h1V641h-1zM775 630h1V641h-1zM776 622h1V641h-1zM778 628h1V641h-1zM779 621h1V641h-1zM782 621h1V641h-1zM783 628h1V641h-1zM785 621h1V641h-1zM786 620h1V641h-1zM787 620h1V641h-1zM789 618h1V641h-1zM793 628h1V641h-1zM794 626h1V641h-1zM796 626h1V641h-1zM797 628h1V641h-1zM798 618h1V641h-1zM804 624h1V641h-1zM805 624h1V641h-1zM807 626h1V641h-1zM808 626h1V641h-1zM809 626h1V641h-1zM811 629h1V641h-1zM815 629h1V641h-1zM816 633h1V641h-1zM818 633h1V641h-1zM819 632h1V641h-1zM820 632h1V641h-1zM824 630h1V641h-1zM826 632h1V641h-1zM827 632h1V641h-1zM829 629h1V641h-1zM830 629h1V641h-1zM831 630h1V641h-1zM835 624h1V641h-1zM837 629h1V641h-1zM838 617h1V641h-1zM840 626h1V641h-1zM841 628h1V641h-1zM842 627h1V641h-1zM845 625h1V641h-1zM846 628h1V641h-1zM848 625h1V641h-1zM849 629h1V641h-1zM851 628h1V641h-1zM852 623h1V641h-1zM853 629h1V641h-1zM856 628h1V641h-1zM857 630h1V641h-1zM860 626h1V641h-1zM862 624h1V641h-1zM863 630h1V641h-1zM866 624h1V641h-1zM867 630h1V641h-1zM868 629h1V641h-1zM870 627h1V641h-1zM871 626h1V641h-1zM873 628h1V641h-1zM874 628h1V641h-1zM877 631h1V641h-1zM878 631h1V641h-1zM879 629h1V641h-1zM881 625h1V641h-1zM882 630h1V641h-1zM884 629h1V641h-1zM888 628h1V641h-1zM889 624h1V641h-1zM890 624h1V641h-1zM892 629h1V641h-1zM893 628h1V641h-1zM895 629h1V641h-1zM899 628h1V641h-1zM900 626h1V641h-1zM901 628h1V641h-1zM903 627h1V641h-1zM904 622h1V641h-1zM910 627h1V641h-1zM911 627h1V641h-1zM912 615h1V641h-1zM914 626h1V641h-1zM919 625h1V641h-1zM921 619h1V641h-1zM922 622h1V641h-1zM923 624h1V641h-1zM925 629h1V641h-1zM926 628h1V641h-1zM929 628h1V641h-1zM930 627h1V641h-1zM932 621h1V641h-1zM933 621h1V641h-1zM934 624h1V641h-1zM936 619h1V641h-1zM937 629h1V641h-1zM940 637h1V641h-1zM941 635h1V641h-1zM943 630h1V641h-1zM944 624h1V641h-1zM945 628h1V641h-1zM947 628h1V641h-1zM951 626h1V641h-1zM952 627h1V641h-1zM954 626h1V641h-1zM955 627h1V641h-1zM956 624h1V641h-1zM958 624h1V641h-1zM962 627h1V641h-1zM963 617h1V641h-1zM965 629h1V641h-1zM966 630h1V641h-1zM967 625h1V641h-1zM971 620h1V641h-1zM973 612h1V641h-1zM974 619h1V641h-1zM976 610h1V641h-1zM977 618h1V641h-1zM978 618h1V641h-1zM982 608h1V641h-1zM984 614h1V641h-1zM985 615h1V641h-1zM987 613h1V641h-1zM989 611h1V641h-1zM992 609h1V641h-1zM993 603h1V641h-1zM996 612h1V641h-1zM998 611h1V641h-1zM999 612h1V641h-1zM1000 611h1V641h-1zM1003 618h1V641h-1zM1004 619h1V641h-1zM1006 621h1V641h-1zM1007 612h1V641h-1zM1009 621h1V641h-1zM1010 618h1V641h-1zM1013 624h1V641h-1zM1014 625h1V641h-1zM1015 625h1V641h-1zM1017 622h1V641h-1zM1018 624h1V641h-1zM1020 622h1V641h-1zM1021 621h1V641h-1zM1024 623h1V641h-1zM1026 625h1V641h-1zM1028 626h1V641h-1zM1029 625h1V641h-1zM1031 623h1V641h-1zM1035 625h1V641h-1zM1036 623h1V641h-1zM1037 628h1V641h-1zM1039 629h1V641h-1zM1040 627h1V641h-1zM1046 627h1V641h-1zM1047 627h1V641h-1zM1048 626h1V641h-1zM1050 623h1V641h-1zM1055 627h1V641h-1zM1057 624h1V641h-1zM1058 631h1V641h-1zM1059 631h1V641h-1zM1061 624h1V641h-1zM1062 627h1V641h-1zM1066 631h1V641h-1zM1068 631h1V641h-1zM1069 626h1V641h-1zM1070 628h1V641h-1zM1072 623h1V641h-1zM1073 622h1V641h-1zM1076 620h1V641h-1zM1079 623h1V641h-1zM1080 622h1V641h-1z" fill="#808080" fill-opacity="0.5" shape-rendering="crispEdges"/>
</g>
<rect x="45.5" y="486.5" width="1085.0" height="154.0" fill="none" stroke="#000" stroke-width="1.1"/>
<line x1="40.1" x2="45.5" y1="640.5" y2="640.5" stroke="#000" stroke-width="1.1"/>
<text x="26.90" y="644.95" font-size="12.9" fill="#000" textLength="7.90" lengthAdjust="spacingAndGlyphs">0</text>
<line x1="40.1" x2="45.5" y1="594.5" y2="594.5" stroke="#000" stroke-width="1.1"/>
<text x="26.90" y="598.95" font-size="12.9" fill="#000" textLength="7.90" lengthAdjust="spacingAndGlyphs">2</text>
<line x1="40.1" x2="45.5" y1="548.5" y2="548.5" stroke="#000" stroke-width="1.1"/>
<text x="26.90" y="552.95" font-size="12.9" fill="#000" textLength="7.90" lengthAdjust="spacingAndGlyphs">4</text>
<line x1="40.1" x2="45.5" y1="502.5" y2="502.5" stroke="#000" stroke-width="1.1"/>
<text x="26.90" y="506.95" font-size="12.9" fill="#000" textLength="7.90" lengthAdjust="spacingAndGlyphs">6</text>
<text x="151.00" y="658.80" font-size="12.9" fill="#000" textLength="53.00" lengthAdjust="spacingAndGlyphs">2021-01</text>
<text x="342.62" y="658.80" font-size="12.9" fill="#000" textLength="53.00" lengthAdjust="spacingAndGlyphs">2022-01</text>
<text x="534.25" y="658.80" font-size="12.9" fill="#000" textLength="53.00" lengthAdjust="spacingAndGlyphs">2023-01</text>
<text x="725.88" y="658.80" font-size="12.9" fill="#000" textLength="53.00" lengthAdjust="spacingAndGlyphs">2024-01</text>
<text x="918.02" y="658.80" font-size="12.9" fill="#000" textLength="53.00" lengthAdjust="spacingAndGlyphs">2025-01</text>
<text x="45.30" y="481.70" font-size="12.9" fill="#000" textLength="23.10" lengthAdjust="spacingAndGlyphs">1e6</text>
<text transform="translate(18.4 587) rotate(-90)" font-size="12.9" textLength="43.6" lengthAdjust="spacingAndGlyphs">Volume</text>
<rect x="52.7" y="17.2" width="107.8" height="118.6" rx="2.8" fill="#fff" fill-opacity="0.8" stroke="#ccc" stroke-opacity="0.8" stroke-width="1.1"/>
<line x1="56" x2="86" y1="26.9" y2="26.9" stroke="#000" stroke-width="2.05"/>
<line x1="56" x2="86" y1="46.9" y2="46.9" stroke="#008000" stroke-width="2.05"/>
<line x1="56" x2="86" y1="67.6" y2="67.6" stroke="#ff0000" stroke-width="2.05"/>
<line x1="56" x2="86" y1="86.9" y2="86.9" stroke="#800080" stroke-width="2.05"/>
<path d="M71.40 95.20L61.00 115.20L81.80 115.20Z" fill="#008000"/>
<path d="M71.40 135.20L61.00 115.20L81.80 115.20Z" fill="#ff0000"/>
<text x="96.80" y="32.00" font-size="13.1" fill="#000" textLength="33.30" lengthAdjust="spacingAndGlyphs">Close</text>
<text x="96.60" y="51.90" font-size="13.1" fill="#000" textLength="37.80" lengthAdjust="spacingAndGlyphs">MA50[</text>
<text x="134.30" y="52.90" font-size="14.5" fill="#000">买</text>
<text x="149.00" y="51.90" font-size="13.1" fill="#000" textLength="3.30" lengthAdjust="spacingAndGlyphs">]</text>
<text x="96.60" y="72.50" font-size="13.1" fill="#000" textLength="37.80" lengthAdjust="spacingAndGlyphs">MA25[</text>
<text x="134.30" y="73.50" font-size="14.5" fill="#000">卖</text>
<text x="149.00" y="72.50" font-size="13.1" fill="#000" textLength="3.30" lengthAdjust="spacingAndGlyphs">]</text>
<text x="96.60" y="91.60" font-size="13.1" fill="#000" textLength="42.40" lengthAdjust="spacingAndGlyphs">MA200</text>
<text x="96.60" y="109.70" font-size="13.1" fill="#000" textLength="21.00" lengthAdjust="spacingAndGlyphs">Buy</text>
<text x="96.80" y="128.30" font-size="13.1" fill="#000" textLength="21.80" lengthAdjust="spacingAndGlyphs">Sell</text>
<rect x="925.6" y="345.8" width="187.5" height="106.5" rx="3.5" fill="#fff" fill-opacity="0.8" stroke="#008000" stroke-width="1.1"/>
<text x="945.80" y="362.10" font-size="15.6" fill="#008000" textLength="162.20" lengthAdjust="spacingAndGlyphs">425.62 (+4.07 +0.97%)</text>
<text x="998.80" y="378.00" font-size="15.6" fill="#008000" textLength="109.20" lengthAdjust="spacingAndGlyphs">212.14~488.45</text>
<text x="941.90" y="393.90" font-size="15.6" fill="#008000" textLength="166.10" lengthAdjust="spacingAndGlyphs">351.91/335.55/331.90</text>
<text x="979.00" y="409.80" font-size="15.6" fill="#008000" textLength="129.00" lengthAdjust="spacingAndGlyphs">2025-09-17 04:00</text>
<text x="930.60" y="428.00" font-size="15.6" fill="#008000" textLength="49.30" lengthAdjust="spacingAndGlyphs">+0.42/</text>
<text x="980.20" y="428.90" font-size="14.8" fill="#008000" textLength="28.3" lengthAdjust="spacingAndGlyphs">偏多</text>
<text x="1009.20" y="428.00" font-size="15.6" fill="#008000" textLength="98.80" lengthAdjust="spacingAndGlyphs">/+0.32/+0.09</text>
<text x="988.00" y="445.60" font-size="14.8" fill="#008000" textLength="29" lengthAdjust="spacingAndGlyphs">连涨</text>
<text x="1017.80" y="445.10" font-size="15.6" fill="#008000" textLength="10.00" lengthAdjust="spacingAndGlyphs">8</text>
<text x="1027.10" y="445.60" font-size="14.8" fill="#008000">天</text>
<text x="1047.80" y="445.10" font-size="15.6" fill="#008000" textLength="60.80" lengthAdjust="spacingAndGlyphs">+22.89%</text>
<text x="45.20" y="696.10" font-size="17.0" fill="#000" textLength="35.40" lengthAdjust="spacingAndGlyphs">TSLA</text>
<text x="86.30" y="696.50" font-size="16.67" fill="#000" textLength="66.68" lengthAdjust="spacingAndGlyphs">交易次数</text>
<text x="152.70000000000002" y="696.1" font-size="17.0">:</text>
<text x="162.40" y="696.10" font-size="17.0" fill="#000" textLength="10.40" lengthAdjust="spacingAndGlyphs">4</text>
<text x="45.50" y="717.80" font-size="16.67" fill="#000" textLength="100.02" lengthAdjust="spacingAndGlyphs">策略总收益率</text>
<text x="145.3" y="717.1" font-size="17.0">:</text>
<text x="155.30" y="717.10" font-size="17.0" fill="#000" textLength="65.50" lengthAdjust="spacingAndGlyphs">277.20%</text>
<text x="45.50" y="736.80" font-size="16.67" fill="#000" textLength="100.02" lengthAdjust="spacingAndGlyphs">长期持有收益</text>
<text x="145.3" y="736.1" font-size="17.0">:</text>
<text x="155.30" y="736.10" font-size="17.0" fill="#000" textLength="65.50" lengthAdjust="spacingAndGlyphs">214.23%</text>
<text x="45.50" y="756.80" font-size="16.67" fill="#000" textLength="66.68" lengthAdjust="spacingAndGlyphs">交易记录</text>
<text x="110.7" y="756.1" font-size="17.0">:</text>
<text x="55.20" y="772.50" font-size="16.6" fill="#000" textLength="64.90" lengthAdjust="spacingAndGlyphs">Buy Date</text>
<text x="130.80" y="772.50" font-size="16.6" fill="#000" textLength="66.20" lengthAdjust="spacingAndGlyphs">Buy Price</text>
<text x="207.70" y="772.50" font-size="16.6" fill="#000" textLength="65.70" lengthAdjust="spacingAndGlyphs">Sell Date</text>
<text x="283.90" y="772.50" font-size="16.6" fill="#000" textLength="67.90" lengthAdjust="spacingAndGlyphs">Sell Price</text>
<text x="362.00" y="772.50" font-size="16.6" fill="#000" textLength="94.30" lengthAdjust="spacingAndGlyphs">Holding Days</text>
<text x="466.80" y="772.50" font-size="16.6" fill="#000" textLength="54.10" lengthAdjust="spacingAndGlyphs">Profit %</text>
<text x="45.20" y="790.00" font-size="17.4" fill="#000" textLength="89.40" lengthAdjust="spacingAndGlyphs">2020-10-28</text>
<text x="159.80" y="790.00" font-size="17.4" fill="#000" textLength="54.40" lengthAdjust="spacingAndGlyphs">135.45</text>
<text x="219.60" y="790.00" font-size="17.4" fill="#000" textLength="89.40" lengthAdjust="spacingAndGlyphs">2021-02-10</text>
<text x="339.00" y="790.00" font-size="17.4" fill="#000" textLength="55.00" lengthAdjust="spacingAndGlyphs">268.32</text>
<text x="449.30" y="790.00" font-size="17.4" fill="#000" textLength="29.40" lengthAdjust="spacingAndGlyphs">105</text>
<text x="503.80" y="790.00" font-size="17.4" fill="#000" textLength="44.80" lengthAdjust="spacingAndGlyphs">98.10</text>
<text x="45.20" y="807.00" font-size="17.4" fill="#000" textLength="89.40" lengthAdjust="spacingAndGlyphs">2021-02-22</text>
<text x="159.80" y="807.00" font-size="17.4" fill="#000" textLength="54.40" lengthAdjust="spacingAndGlyphs">238.27</text>
<text x="219.60" y="807.00" font-size="17.4" fill="#000" textLength="89.40" lengthAdjust="spacingAndGlyphs">2021-11-15</text>
<text x="339.00" y="807.00" font-size="17.4" fill="#000" textLength="55.00" lengthAdjust="spacingAndGlyphs">337.82</text>
<text x="449.30" y="807.00" font-size="17.4" fill="#000" textLength="29.40" lengthAdjust="spacingAndGlyphs">266</text>
<text x="503.80" y="807.00" font-size="17.4" fill="#000" textLength="44.80" lengthAdjust="spacingAndGlyphs">41.78</text>
<text x="45.20" y="824.20" font-size="17.4" fill="#000" textLength="89.40" lengthAdjust="spacingAndGlyphs">2021-12-13</text>
<text x="159.80" y="824.20" font-size="17.4" fill="#000" textLength="54.40" lengthAdjust="spacingAndGlyphs">322.14</text>
<text x="219.60" y="824.20" font-size="17.4" fill="#000" textLength="89.40" lengthAdjust="spacingAndGlyphs">2025-01-07</text>
<text x="339.00" y="824.20" font-size="17.4" fill="#000" textLength="55.00" lengthAdjust="spacingAndGlyphs">394.56</text>
<text x="444.50" y="824.20" font-size="17.4" fill="#000" textLength="38.90" lengthAdjust="spacingAndGlyphs">1121</text>
<text x="509.60" y="824.20" font-size="17.4" fill="#000" textLength="44.60" lengthAdjust="spacingAndGlyphs">22.48</text>
<text x="45.20" y="841.30" font-size="17.4" fill="#000" textLength="89.40" lengthAdjust="spacingAndGlyphs">2025-01-29</text>
<text x="159.80" y="841.30" font-size="17.4" fill="#000" textLength="54.40" lengthAdjust="spacingAndGlyphs">388.17</text>
<text x="219.60" y="841.30" font-size="17.4" fill="#000" textLength="89.40" lengthAdjust="spacingAndGlyphs">2025-09-17</text>
<text x="339.00" y="841.30" font-size="17.4" fill="#000" textLength="55.00" lengthAdjust="spacingAndGlyphs">425.62</text>
<text x="449.30" y="841.30" font-size="17.4" fill="#000" textLength="29.40" lengthAdjust="spacingAndGlyphs">230</text>
<text x="509.60" y="841.30" font-size="17.4" fill="#000" textLength="34.40" lengthAdjust="spacingAndGlyphs">9.65</text>
</g>
</svg>
</body></html>
